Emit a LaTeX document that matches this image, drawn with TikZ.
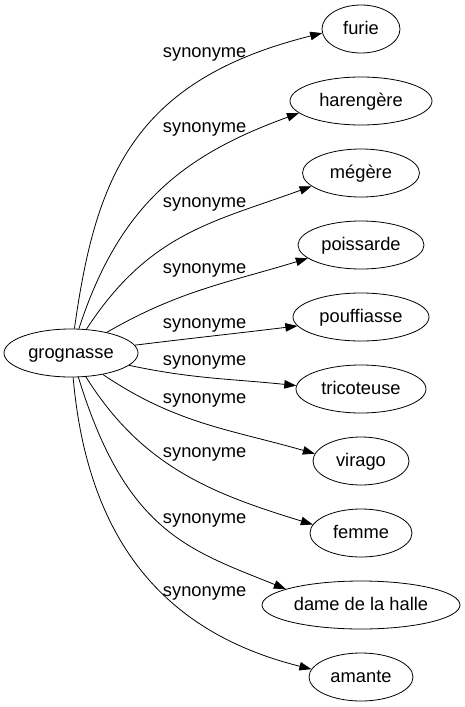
\documentclass[tikz,border=0pt]{standalone}
\usepackage{fontspec}
\setmainfont{Liberation Sans}
\usetikzlibrary{shapes.geometric, arrows.meta}
\tikzset{
  word/.style={
    draw, ellipse, line width=0.8pt,
    inner sep=0pt, minimum height=48pt,
    text height=13.5pt, text depth=3.5pt
  },
  syn/.style={anchor=base},
  rel/.style={
    line width=0.8pt,
    -{Triangle[length=12pt, width=8.5pt]}
  }
}

\begin{document}
\begin{tikzpicture}[x=1pt, y=1pt, every node/.style={font=\fontsize{18.3}{22}\selectfont}]
\useasboundingbox (0,0) rectangle (465,-707);
\newcommand\XWord{361}
\newcommand\XSyn{204.7}
\node[word, minimum width=134pt] (grognasse) at (71,-353) {grognasse};
\node[word, minimum width=78pt] (furie) at (\XWord,-29) {furie};
\node[word, minimum width=142pt] (harengere) at (\XWord,-101) {harengère};
\node[word, minimum width=117pt] (megere) at (\XWord,-173) {mégère};
\node[word, minimum width=126pt] (poissarde) at (\XWord,-245) {poissarde};
\node[word, minimum width=136pt] (pouffiasse) at (\XWord,-317) {pouffiasse};
\node[word, minimum width=130pt] (tricoteuse) at (\XWord,-389) {tricoteuse};
\node[word, minimum width=96pt] (virago) at (\XWord,-461) {virago};
\node[word, minimum width=102pt] (femme) at (\XWord,-533) {femme};
\node[word, minimum width=198pt] (dame) at (\XWord,-605) {dame de la halle};
\node[word, minimum width=104pt] (amante) at (\XWord,-677) {amante};

\node[syn] (S1) at (\XSyn,-57) {synonyme};
\node[syn] (S2) at (\XSyn,-132) {synonyme};
\node[syn] (S3) at (\XSyn,-207) {synonyme};
\node[syn] (S4) at (\XSyn,-273) {synonyme};
\node[syn] (S5) at (\XSyn,-328) {synonyme};
\node[syn] (S6) at (\XSyn,-365) {synonyme};
\node[syn] (S7) at (\XSyn,-403) {synonyme};
\node[syn] (S8) at (\XSyn,-457) {synonyme};
\node[syn] (S9) at (\XSyn,-523) {synonyme};
\node[syn] (S10) at (\XSyn,-596) {synonyme};

\path (grognasse) edge[rel, out=82, in=194, in looseness=1.3] (furie.186)
      (grognasse) edge[rel, out=72, in=200, out looseness=1.1] (harengere.191)
      (grognasse) edge[rel, out=57, in=200, out looseness=1.1] (megere.195)
      (grognasse) edge[rel, out=30, in=197] (poissarde.194)
      (grognasse) edge[rel, out=7, in=187] (pouffiasse.188)
      (grognasse) edge[rel, out=-12, in=174] (tricoteuse.177)
      (grognasse) edge[rel, out=-34, in=164] (virago.171)
      (grognasse) edge[rel, out=-58, in=163] (femme.170)
      (grognasse) edge[rel, out=-73, in=158, out looseness=1.4, in looseness=0.9] (dame.168)
      (grognasse) edge[rel, out=-85, in=166, out looseness=1.15] (amante.171);
\end{tikzpicture}
\end{document}
